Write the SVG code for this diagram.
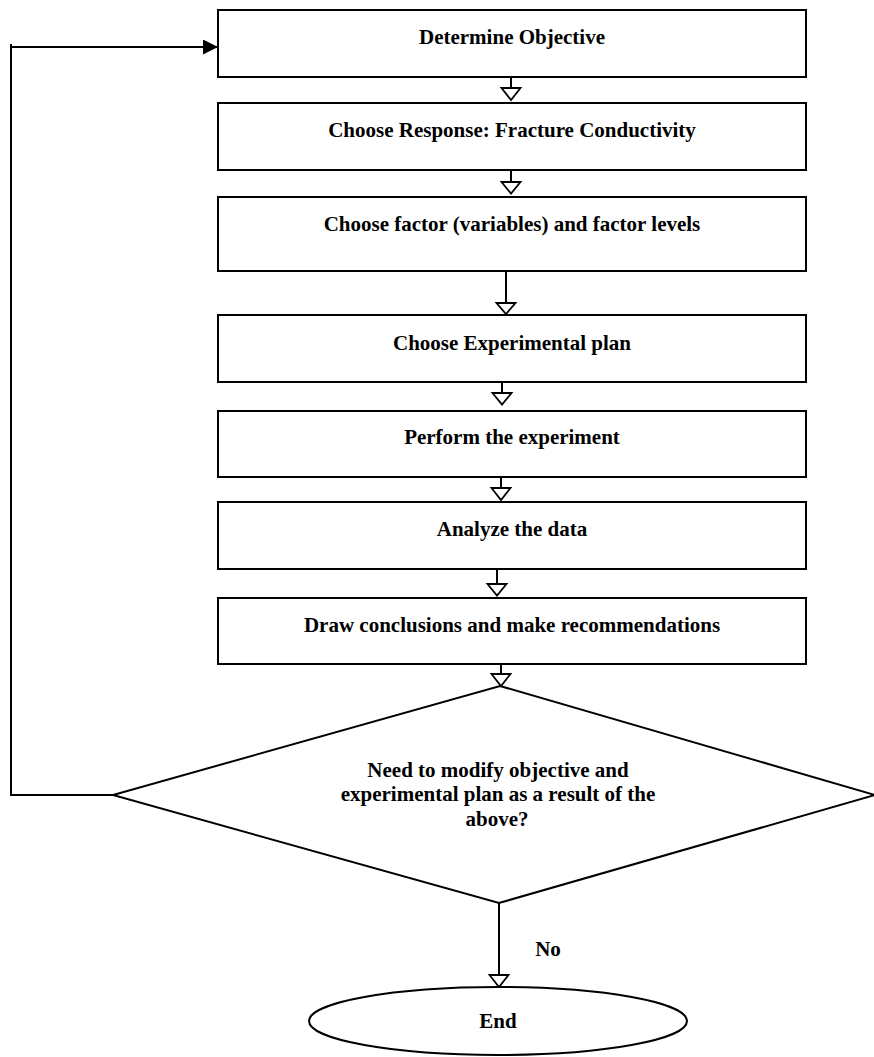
<svg xmlns="http://www.w3.org/2000/svg" width="874" height="1057" viewBox="0 0 874 1057">
<style>
.box{fill:#fff;stroke:#000;stroke-width:2}
.t{font-family:"Liberation Serif","Times New Roman",serif;font-weight:bold;font-size:21px;fill:#000;text-anchor:middle}
.c{fill:none;stroke:#000;stroke-width:2}
.h{fill:#fff;stroke:#000;stroke-width:1.8;stroke-linejoin:miter}
</style>
<defs>
<marker id="fill" markerUnits="userSpaceOnUse" markerWidth="16" markerHeight="16" refX="15" refY="7.5" orient="auto" viewBox="0 0 16 16">
<path d="M0,0 L15,7.5 L0,15 Z" fill="#000"/>
</marker>
</defs>
<g id="connectors">
<path class="c" d="M113,795 H11 V44"/>
<path class="c" d="M11,47 H218" marker-end="url(#fill)"/>
<path class="c" d="M511,77 V88"/><path class="h" d="M501.5,88 H520.5 L511,100 Z"/>
<path class="c" d="M511,170 V182"/><path class="h" d="M501.5,182 H520.5 L511,193.5 Z"/>
<path class="c" d="M506,271 V303"/><path class="h" d="M496.5,303 H515.5 L506,314 Z"/>
<path class="c" d="M502,382 V393"/><path class="h" d="M492.5,393 H511.5 L502,404.5 Z"/>
<path class="c" d="M501,477 V488"/><path class="h" d="M491.5,488 H510.5 L501,500 Z"/>
<path class="c" d="M497,569 V584"/><path class="h" d="M487.5,584 H506.5 L497,595.5 Z"/>
<path class="c" d="M501,662 V674"/><path class="h" d="M491.5,674 H510.5 L501,686 Z"/>
<path class="c" d="M499,903 V975"/><path class="h" d="M489.5,975 H508.5 L499,987 Z"/>
<text class="t" x="548" y="956">No</text>
</g>
<g id="n1"><rect class="box" x="218" y="10" width="588" height="67"/><text class="t" x="512" y="44">Determine Objective</text></g>
<g id="n2"><rect class="box" x="218" y="103" width="588" height="67"/><text class="t" x="512" y="137">Choose Response: Fracture Conductivity</text></g>
<g id="n3"><rect class="box" x="218" y="197" width="588" height="74"/><text class="t" x="512" y="231">Choose factor (variables) and factor levels</text></g>
<g id="n4"><rect class="box" x="218" y="315" width="588" height="67"/><text class="t" x="512" y="350">Choose Experimental plan</text></g>
<g id="n5"><rect class="box" x="218" y="411" width="588" height="66"/><text class="t" x="512" y="444">Perform the experiment</text></g>
<g id="n6"><rect class="box" x="218" y="502" width="588" height="67"/><text class="t" x="512" y="536">Analyze the data</text></g>
<g id="n7"><rect class="box" x="218" y="598" width="588" height="66"/><text class="t" x="512" y="632">Draw conclusions and make recommendations</text></g>
<g id="n8"><path class="box" d="M500,686 L875,795 L499,903 L113,795 Z"/>
<text class="t" x="498" y="777">Need to modify objective and</text>
<text class="t" x="498" y="801">experimental plan as a result of the</text>
<text class="t" x="497" y="826">above?</text></g>
<g id="n9"><ellipse class="box" cx="498" cy="1021" rx="189" ry="34"/><text class="t" x="498" y="1028">End</text></g>
</svg>
